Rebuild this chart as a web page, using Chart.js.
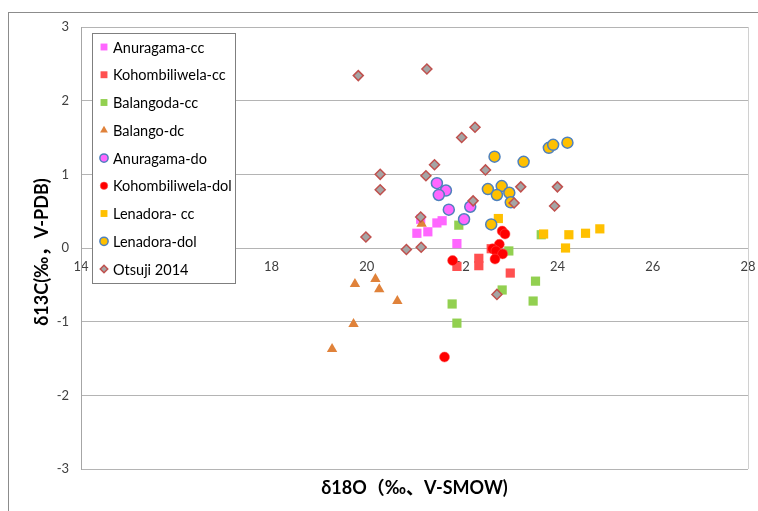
<!DOCTYPE html>
<html>
<head>
<meta charset="utf-8">
<script src="https://cdn.jsdelivr.net/npm/chart.js@4/dist/chart.umd.min.js"></script>
<style>
  html, body { margin: 0; padding: 0; background: #fff; }
  #wrap { width: 758px; height: 511px; }
</style>
</head>
<body>
<div id="wrap"><canvas id="isoChart" width="758" height="511"></canvas></div>
<script>
// [d18O, d13C] pairs
var anuragamaCC = [[21.13,0.39],[21.05,0.20],[21.28,0.22],[21.47,0.34],[21.58,0.37],[21.89,0.06]];
var kohombiliwelaCC = [[21.89,-0.25],[22.35,-0.14],[22.35,-0.24],[23.01,-0.34],[22.61,-0.01]];
var balangodaCC = [[21.93,0.31],[22.98,-0.04],[23.66,0.18],[23.54,-0.45],[22.84,-0.57],[21.79,-0.76],[23.49,-0.72],[21.89,-1.02]];
var balangoDC = [[21.15,0.33],[19.75,-0.49],[20.18,-0.42],[20.26,-0.56],[20.64,-0.72],[19.72,-1.03],[19.27,-1.37]];
var anuragamaDO = [[21.47,0.88],[21.66,0.78],[21.51,0.72],[21.72,0.52],[22.17,0.56],[22.04,0.39]];
var kohombiliwelaDol = [[22.84,0.23],[22.90,0.19],[22.78,0.05],[22.64,-0.01],[22.71,-0.04],[22.85,-0.08],[22.69,-0.15],[21.80,-0.17],[21.63,-1.48]];
var lenadoraCC = [[22.76,0.40],[23.71,0.19],[24.24,0.18],[24.59,0.20],[24.89,0.26],[24.17,0.00]];
var lenadoraDol = [[22.68,1.24],[23.29,1.17],[23.82,1.36],[23.91,1.40],[24.21,1.43],[22.54,0.80],[22.83,0.84],[22.73,0.72],[22.99,0.75],[23.02,0.62],[22.61,0.32]];
var otsuji2014 = [[19.82,2.34],[21.26,2.43],[22.27,1.64],[21.99,1.50],[22.49,1.06],[21.42,1.13],[20.28,1.00],[20.28,0.79],[21.24,0.98],[22.23,0.64],[23.23,0.83],[24.00,0.83],[23.94,0.57],[23.09,0.61],[21.13,0.42],[19.98,0.15],[20.83,-0.02],[21.14,0.01],[22.73,-0.63]];

var seriesNames = ["Anuragama-cc","Kohombiliwela-cc","Balangoda-cc","Balango-dc","Anuragama-do","Kohombiliwela-dol","Lenadora- cc","Lenadora-dol","Otsuji 2014"];
var seriesData = [anuragamaCC, kohombiliwelaCC, balangodaCC, balangoDC, anuragamaDO, kohombiliwelaDol, lenadoraCC, lenadoraDol, otsuji2014];

var xTitle = "δ18O（‰、V-SMOW)";
var yTitle = "δ13C(‰，V-PDB)";

var markerStyles = [
  {pointStyle: "rect", radius: 6.5, bg: "#FF66FF", border: "#FF66FF", bw: 0},
  {pointStyle: "rect", radius: 6.5, bg: "#FF5050", border: "#FF5050", bw: 0},
  {pointStyle: "rect", radius: 6.5, bg: "#92D050", border: "#92D050", bw: 0},
  {pointStyle: "triangle", radius: 6, bg: "#E0823A", border: "#E0823A", bw: 0},
  {pointStyle: "circle", radius: 5.5, bg: "#FF66FF", border: "#4F81BD", bw: 1.5},
  {pointStyle: "circle", radius: 5, bg: "#FF0000", border: "#FF5555", bw: 0.5},
  {pointStyle: "rect", radius: 6.5, bg: "#FFC000", border: "#FFC000", bw: 0},
  {pointStyle: "circle", radius: 5.5, bg: "#FFC000", border: "#4F81BD", bw: 1.5},
  {pointStyle: "rectRot", radius: 5, bg: "#A5A5A5", border: "#C0504D", bw: 1.5}
];

var datasets = seriesNames.map(function (name, i) {
  var m = markerStyles[i];
  return {
    label: name,
    data: seriesData[i].map(function (p) { return {x: p[0], y: p[1]}; }),
    pointStyle: m.pointStyle,
    pointRadius: m.radius,
    pointHoverRadius: m.radius,
    backgroundColor: m.bg,
    borderColor: m.border,
    borderWidth: m.bw,
    // later series sit on top, like the original
    order: seriesNames.length - 1 - i
  };
});

var frameAndTexts = {
  id: "frameAndTexts",
  beforeDraw: function (chart) {
    var ctx = chart.ctx;
    ctx.save();
    ctx.fillStyle = "#ffffff";
    ctx.fillRect(0, 0, chart.width, chart.height);
    ctx.strokeStyle = "#8C8C8C";
    ctx.lineWidth = 1;
    ctx.strokeRect(8.5, 12.5, 800, 600);
    ctx.restore();
  },
  afterDatasetsDraw: function (chart) {
    var ctx = chart.ctx;
    var a = chart.chartArea;
    ctx.save();
    ctx.strokeStyle = "#D0D0D0";
    ctx.lineWidth = 1;
    ctx.beginPath();
    ctx.moveTo(a.right + 0.5, a.top);
    ctx.lineTo(a.right + 0.5, a.bottom);
    ctx.stroke();

    // axis titles
    ctx.fillStyle = "#000000";
    ctx.font = "bold 18px Lato, 'Noto Sans CJK JP', sans-serif";
    ctx.textAlign = "center";
    ctx.textBaseline = "middle";
    ctx.fillText(xTitle, (a.left + a.right) / 2, 488);
    ctx.translate(42, 252);
    ctx.rotate(-Math.PI / 2);
    ctx.fillText(yTitle, 0, 0);
    ctx.restore();

    // legend box floating over the plot
    ctx.save();
    var bx = 92.5, by = 33.5, bw = 143, bh = 250;
    ctx.fillStyle = "#ffffff";
    ctx.fillRect(bx, by, bw, bh);
    ctx.strokeStyle = "#7F7F7F";
    ctx.lineWidth = 1;
    ctx.strokeRect(bx, by, bw, bh);
    ctx.font = "14.5px Lato, sans-serif";
    ctx.textAlign = "left";
    ctx.textBaseline = "middle";
    chart.data.datasets.forEach(function (ds, i) {
      var y = 47 + i * 27.75;
      var m = markerStyles[i];
      ctx.fillStyle = m.bg;
      ctx.strokeStyle = m.border;
      ctx.lineWidth = m.bw;
      Chart.helpers.drawPoint(ctx, {pointStyle: m.pointStyle, radius: m.radius * 0.75, rotation: 0, borderWidth: m.bw}, 104, y);
      ctx.fillStyle = "#000000";
      ctx.fillText(ds.label, 113, y + 1);
    });
    ctx.restore();
  }
};

var canvasElement = document.getElementById("isoChart");
var config = {
  type: "scatter",
  data: {datasets: datasets},
  options: {
    responsive: false,
    animation: false,
    layout: {padding: {left: 0, top: 27, right: 10, bottom: 42}},
    plugins: {
      legend: {display: false},
      tooltip: {enabled: false}
    },
    scales: {
      x: {
        type: "linear",
        position: {y: 0},
        min: 14,
        max: 28,
        afterFit: function (scale) { scale.paddingLeft = 0; scale.paddingRight = 0; },
        grid: {display: false, drawTicks: false},
        border: {display: false},
        ticks: {stepSize: 2, padding: 11, color: "#404040", font: {family: "Lato", size: 13}, maxRotation: 0}
      },
      y: {
        type: "linear",
        position: "left",
        min: -3,
        max: 3,
        afterFit: function (scale) { scale.width = 81; },
        grid: {color: "#B4B4B4", drawTicks: false},
        border: {display: true, color: "#A6A6A6"},
        ticks: {stepSize: 1, padding: 12, color: "#404040", font: {family: "Lato", size: 13}}
      }
    }
  },
  plugins: [frameAndTexts]
};

var isoChart = new Chart(canvasElement, config);
</script>
</body>
</html>
